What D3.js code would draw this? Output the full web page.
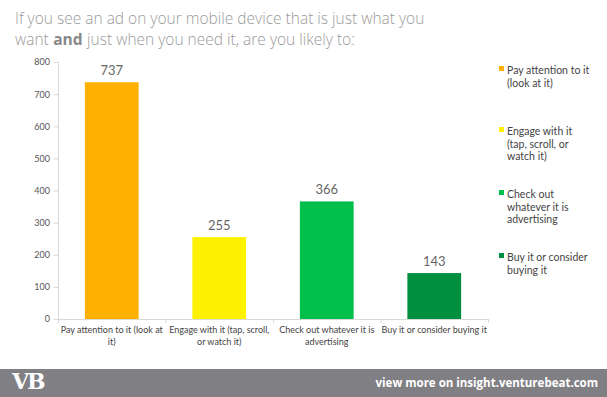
<!DOCTYPE html>
<html>
<head>
<meta charset="utf-8">
<script src="https://cdn.jsdelivr.net/npm/d3@7"></script>
<style>
  body { margin: 0; background: #fff; }
  svg { display: block; }
</style>
</head>
<body>
<script>
// chart data
var categories = [
  "Pay attention to it (look at it)",
  "Engage with it (tap, scroll, or watch it)",
  "Check out whatever it is advertising",
  "Buy it or consider buying it"
];
var values = [737, 255, 366, 143];
var colors = ["#ffb000", "#fff200", "#00c04b", "#008f3f"];
var yTicks = [0, 100, 200, 300, 400, 500, 600, 700, 800];
// legend labels are broken into lines like in the picture
var legendLines = [
  ["Pay attention to it", "(look at it)"],
  ["Engage with it", "(tap, scroll, or", "watch it)"],
  ["Check out", "whatever it is", "advertising"],
  ["Buy it or consider", "buying it"]
];
var axisLines = [
  ["Pay attention to it (look at", "it)"],
  ["Engage with it (tap, scroll,", "or watch it)"],
  ["Check out whatever it is", "advertising"],
  ["Buy it or consider buying it"]
];

var svgWidth = 607;
var svgHeight = 397;

var svg = d3.select("body")
  .append("svg")
  .attr("width", svgWidth)
  .attr("height", svgHeight);

// title, second line is three pieces placed one after the other
function titleText(x, y, txt, weight, color) {
  return svg.append("text")
    .attr("x", x).attr("y", y)
    .attr("font-family", "Open Sans")
    .attr("font-weight", weight)
    .attr("font-size", 15.5)
    .attr("fill", color)
    .text(txt);
}
titleText(15, 23.5, "If you see an ad on your mobile device that is just what you", 300, "#9a9a9a");
var tx = 15;
[["want", 300, "#9a9a9a"], ["and", 700, "#888"], ["just when you need it, are you likely to:", 300, "#9a9a9a"]]
  .forEach(function(p) {
    var t = titleText(tx, 45, p[0], p[1], p[2]);
    tx += t.node().getComputedTextLength() + 4.5;
  });

// plot area
var plotLeft = 58, plotRight = 488, plotTop = 62, plotBottom = 319;

var x = d3.scaleBand()
  .domain(categories)
  .range([plotLeft, plotRight])
  .paddingInner(0.5)
  .paddingOuter(0.25);

var y = d3.scaleLinear()
  .domain([0, 800])
  .range([plotBottom, plotTop]);

// y axis
var yAxis = svg.append("g")
  .attr("transform", `translate(${plotLeft},0)`)
  .call(d3.axisLeft(y).tickValues(yTicks).tickSize(4).tickPadding(4));
yAxis.select(".domain").attr("stroke", "#d9d9d9");
yAxis.selectAll(".tick line").attr("stroke", "#d9d9d9");
yAxis.selectAll("text")
  .attr("font-family", "Lato")
  .attr("font-size", 9)
  .attr("fill", "#555");

// x axis line with ticks at category boundaries
var step = (plotRight - plotLeft) / categories.length;
svg.append("line")
  .attr("x1", plotLeft).attr("x2", plotRight)
  .attr("y1", plotBottom + 0.5).attr("y2", plotBottom + 0.5)
  .attr("stroke", "#d9d9d9");
svg.selectAll(".xtick")
  .data(d3.range(categories.length + 1))
  .enter()
  .append("line")
  .attr("class", "xtick")
  .attr("x1", d => plotLeft + d * step + 0.5)
  .attr("x2", d => plotLeft + d * step + 0.5)
  .attr("y1", plotBottom)
  .attr("y2", plotBottom + 4)
  .attr("stroke", "#d9d9d9");

// bars
svg.selectAll("rect.bar")
  .data(values)
  .enter()
  .append("rect")
  .attr("class", "bar")
  .attr("x", (d, i) => x(categories[i]))
  .attr("y", d => y(d))
  .attr("width", x.bandwidth())
  .attr("height", d => y(0) - y(d))
  .attr("fill", (d, i) => colors[i]);

// value labels
svg.selectAll("text.val")
  .data(values)
  .enter()
  .append("text")
  .attr("class", "val")
  .attr("x", (d, i) => x(categories[i]) + x.bandwidth() / 2)
  .attr("y", d => y(d) - 7)
  .attr("text-anchor", "middle")
  .attr("font-family", "Lato")
  .attr("font-size", 13)
  .attr("fill", "#666")
  .text(d => d);

// category labels
axisLines.forEach(function(lines, i) {
  var cx = x(categories[i]) + x.bandwidth() / 2;
  var t = svg.append("text")
    .attr("text-anchor", "middle")
    .attr("font-family", "Lato")
    .attr("font-size", 9)
    .attr("fill", "#444");
  lines.forEach(function(l, j) {
    t.append("tspan").attr("x", cx).attr("y", 333 + j * 12).text(l);
  });
});

// legend
var legendY = [70, 131, 194, 257];
legendLines.forEach(function(lines, i) {
  var g = svg.append("g").attr("transform", `translate(499,${legendY[i]})`);
  g.append("rect")
    .attr("x", 0).attr("y", -4)
    .attr("width", 5).attr("height", 5)
    .attr("fill", colors[i]);
  var t = g.append("text")
    .attr("font-family", "Lato")
    .attr("font-size", 10.5)
    .attr("fill", "#444");
  lines.forEach(function(l, j) {
    t.append("tspan").attr("x", 8).attr("y", 4 + j * 12.5).text(l);
  });
});

// footer band
svg.append("rect")
  .attr("x", 0).attr("y", 369)
  .attr("width", svgWidth).attr("height", svgHeight - 369)
  .attr("fill", "#807f84");
svg.append("text")
  .attr("x", 12).attr("y", 389)
  .attr("font-family", "DejaVu Serif")
  .attr("font-weight", 700)
  .attr("font-size", 22)
  .attr("letter-spacing", -2)
  .attr("fill", "#fff")
  .text("VB");
svg.append("text")
  .attr("x", 598).attr("y", 387)
  .attr("text-anchor", "end")
  .attr("font-family", "Open Sans")
  .attr("font-weight", 700)
  .attr("font-size", 11.5)
  .attr("fill", "#fff")
  .text("view more on insight.venturebeat.com");
</script>
</body>
</html>
